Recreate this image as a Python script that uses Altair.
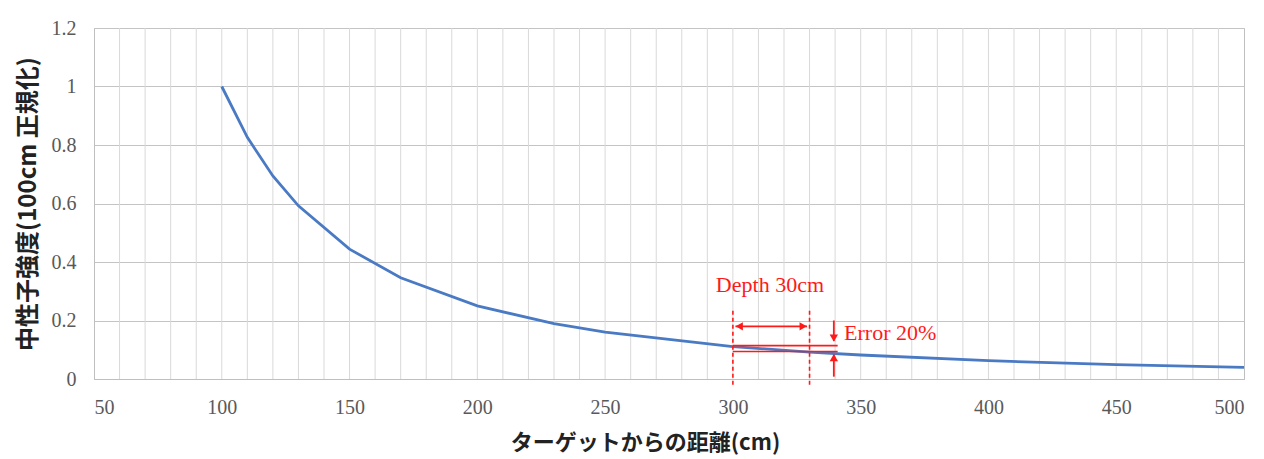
import altair as alt
import pandas as pd

# main series
dist = [100, 110, 120, 130, 150, 170, 200, 230, 250, 300, 330, 350, 400, 450, 500]
intensity = [1.0, 0.826, 0.694, 0.592, 0.444, 0.346, 0.25, 0.189, 0.16, 0.111, 0.092, 0.082, 0.0625, 0.049, 0.04]

# annotation values
depth_x = [300, 330]
depth_y = [-0.02, 0.235]
err_lines_y = [0.114, 0.094]
err_lines_x = [300, 341]
harrow_y = 0.18
varrow_x = 339.5
varrow_top = [0.2, 0.13]
varrow_bot = [0.008, 0.083]
labels_text = ["Depth 30cm", "Error 20%"]
labels_x = [314.5, 343.5]
labels_y = [0.322, 0.158]

x_grid = list(range(60, 500, 10))
x_ticks = list(range(50, 501, 50))
y_ticks = [0, 0.2, 0.4, 0.6, 0.8, 1, 1.2]

RED = "#ff1a1a"
FONT = "Liberation Serif"
JP = "Noto Sans CJK JP"

df = pd.DataFrame({"d": dist, "v": intensity})

xscale = alt.Scale(domain=[50, 500], nice=False, zero=False)
yscale = alt.Scale(domain=[0, 1.2], nice=False)

xgrid = alt.Chart(pd.DataFrame({"g": x_grid})).mark_rule(color="#d9d9d9", strokeWidth=1).encode(
    x=alt.X("g:Q", scale=xscale,
            axis=alt.Axis(values=x_ticks, title="ターゲットからの距離(cm)", ticks=False, grid=False,
                          domainColor="#bfbfbf", labelFont=FONT, labelFontSize=20,
                          labelColor="#595959", labelPadding=18, titleFont=JP,
                          titleFontSize=22, titleFontWeight="bold", titleColor="#222222",
                          titlePadding=15, titleX=551)),
)

line = alt.Chart(df).mark_line(color="#4a7ac4", strokeWidth=2.8).encode(
    x=alt.X("d:Q", scale=xscale),
    y=alt.Y("v:Q", scale=yscale,
            axis=alt.Axis(values=y_ticks, format="~g", title="中性子強度(100cm 正規化)", ticks=False,
                          gridColor="#c4c4c4", domainColor="#bfbfbf", labelFont=FONT,
                          labelFontSize=20, labelColor="#595959", labelPadding=18,
                          titleFont=JP, titleFontSize=24, titleFontWeight="bold",
                          titleColor="#222222", titlePadding=11)),
)

vdash = alt.Chart(pd.DataFrame({"x": depth_x, "y1": [depth_y[0]] * 2, "y2": [depth_y[1]] * 2})).mark_rule(
    color=RED, strokeDash=[4, 3], strokeWidth=1.6).encode(
    x="x:Q", y="y1:Q", y2="y2:Q")

hlines = alt.Chart(pd.DataFrame({"y": err_lines_y, "x1": [err_lines_x[0]] * 2, "x2": [err_lines_x[1]] * 2})).mark_rule(
    color=RED, strokeWidth=1.6).encode(
    x="x1:Q", x2="x2:Q", y="y:Q")

shafts = alt.Chart(pd.DataFrame({
    "x1": [depth_x[0] + 1, varrow_x, varrow_x],
    "x2": [depth_x[1] - 1, varrow_x, varrow_x],
    "y1": [harrow_y, varrow_top[0], varrow_bot[0]],
    "y2": [harrow_y, varrow_top[1], varrow_bot[1]],
})).mark_rule(color=RED, strokeWidth=1.8).encode(
    x="x1:Q", x2="x2:Q", y="y1:Q", y2="y2:Q")

heads = alt.Chart(pd.DataFrame({
    "x": [depth_x[0] + 2.5, depth_x[1] - 2.5, varrow_x, varrow_x],
    "y": [harrow_y, harrow_y, varrow_top[1] + 0.01, varrow_bot[1] - 0.01],
    "s": ["triangle-left", "triangle-right", "triangle-down", "triangle-up"],
})).mark_point(color=RED, filled=True, opacity=1, size=70).encode(
    x="x:Q", y="y:Q", shape=alt.Shape("s:N", scale=None))

t1 = alt.Chart(pd.DataFrame({"t": [labels_text[0]], "x": [labels_x[0]], "y": [labels_y[0]]})).mark_text(
    color=RED, font=FONT, fontSize=22, baseline="middle", align="center").encode(x="x:Q", y="y:Q", text="t:N")
t2 = alt.Chart(pd.DataFrame({"t": [labels_text[1]], "x": [labels_x[1]], "y": [labels_y[1]]})).mark_text(
    color=RED, font=FONT, fontSize=22, baseline="middle", align="left").encode(x="x:Q", y="y:Q", text="t:N")

chart = alt.layer(xgrid, line, vdash, hlines, shafts, heads, t1, t2).properties(
    width=1150, height=351,
    autosize=alt.AutoSizeParams(type="none"),
    padding={"left": 86, "top": 20, "right": 12, "bottom": 80},
    background="white",
).configure_view(stroke="#bfbfbf").configure_axis(labelFont=FONT, labelFontSize=20)

chart.save("out.html", embed_options={"renderer": "svg", "actions": False})
